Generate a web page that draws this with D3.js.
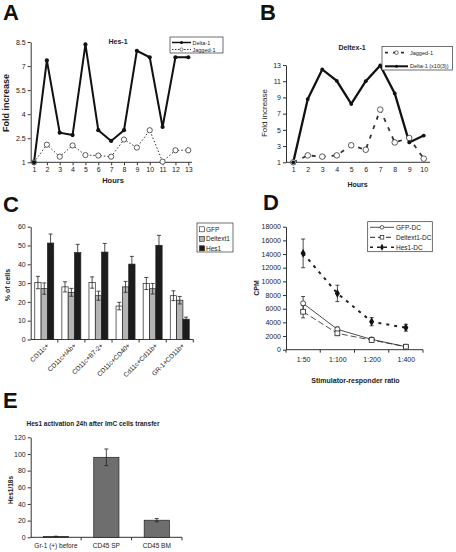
<!DOCTYPE html>
<html><head><meta charset="utf-8">
<script src="https://cdn.jsdelivr.net/npm/d3@7"></script>
<style>
body{margin:0;background:#fff;}
svg{display:block;font-family:"Liberation Sans",Arial,sans-serif;}
</style></head><body>
<svg id="c" width="456" height="552"></svg>
<script>
// ---------- DATA ----------
// Panel A (Hes-1)
const hoursA = [1,2,3,4,5,6,7,8,9,10,11,12,13];
const hesDelta1 = [1,7.35,2.85,2.7,8.35,3.0,2.33,3.0,7.95,7.55,3.2,7.55,7.55];
const hesJagged1 = [1,2.1,1.35,2.05,1.45,1.42,1.35,2.42,1.92,3.0,1.04,1.75,1.75];
const ticksA = [1,2.5,4,5.5,7,8.5];
// Panel B (Deltex-1)
const hoursB = [1,2,3,4,5,6,7,8,9,10];
const dtxJagged1 = [1,1.85,1.7,1.85,3.1,2.55,7.5,3.45,4.0,1.45];
const dtxDelta1 = [1,8.8,12.45,11.05,8.2,11.0,12.95,9.5,3.45,4.3];
const ticksB = [1,3,5,7,9,11,13];
// Panel C
const cellTypes = ["CD11c+","CD11c+IAb+","CD11c+B7-2+","CD11c+CD40+","Cd11c+Cd11b+","GR-1+CD11b+"];
const cSeries = ["GFP","Deltext1","Hes1"];
const cGFP = [30.3,28.0,30.3,17.8,29.8,23.3];
const cGFPerr = [3.3,2.7,3.0,2.0,3.2,2.6];
const cDeltex = [27.1,25.1,23.3,28.0,27.0,20.9];
const cDeltexErr = [3.0,2.1,2.4,2.9,2.8,2.0];
const cHes = [51.3,46.2,46.5,40.1,50.1,10.8];
const cHesErr = [4.8,4.4,4.6,4.1,5.3,1.1];
const ticksC = [0,10,20,30,40,50,60];
// Panel D
const ratios = ["1:50","1:100","1:200","1:400"];
const dGFP = [6780,2980,1510,440];
const dGFPerr = [1000,350,150,80];
const dDeltex = [5560,2390,1410,440];
const dDeltexErr = [900,300,150,80];
const dHes = [14100,8240,4100,3220];
const dHesErr = [2100,1200,600,500];
const ticksD = [0,2000,4000,6000,8000,10000,12000,14000,16000,18000];
// Panel E
const eCats = ["Gr-1 (+) before","CD45 SP","CD45 BM"];
const eVals = [1,96,20.5];
const eErr = [0.3,10,2];
const ticksE = [0,20,40,60,80,100,120];

// ---------- HELPERS ----------
const svg = d3.select("#c");
const FONT = '"Liberation Sans",Arial,sans-serif';
const INK = "#222";
function styleAxis(g, fs){
  g.selectAll("text").attr("font-size", fs||7).attr("font-family", FONT).attr("fill", INK);
  g.selectAll("line").attr("stroke", "#333");
  g.select(".domain").attr("stroke", "#333");
}
function leftAxis(scale, x, vals, fmt, fs){
  const g = svg.append("g").attr("transform",`translate(${x},0)`)
    .call(d3.axisLeft(scale).tickValues(vals).tickSize(3).tickSizeOuter(0).tickPadding(2).tickFormat(fmt||(d=>d)));
  styleAxis(g, fs); return g;
}
function bottomLine(y, x0, x1){
  svg.append("line").attr("x1",x0).attr("x2",x1).attr("y1",y).attr("y2",y).attr("stroke","#333");
}
function letter(t,x,y){
  svg.append("text").attr("x",x).attr("y",y).attr("font-size",22).attr("font-weight","bold")
    .attr("font-family",FONT).attr("fill","#111").text(t);
}
function txt(t,x,y,o){
  o=o||{};
  const e = svg.append("text").attr("x",x).attr("y",y).attr("font-size",o.fs||7)
    .attr("font-family",FONT).attr("fill",INK).attr("text-anchor",o.anchor||"middle")
    .attr("font-weight",o.bold?"bold":"normal").text(t);
  if(o.rot!==undefined) e.attr("transform",`rotate(${o.rot},${x},${y})`);
  return e;
}
function errBars(xs, vals, errs, yS, cap){
  vals.forEach((v,i)=>{
    const x = xs[i];
    const g = svg.append("g").attr("stroke","#222").attr("stroke-width",0.8);
    g.append("line").attr("x1",x).attr("x2",x).attr("y1",yS(v+errs[i])).attr("y2",yS(v-errs[i]));
    g.append("line").attr("x1",x-cap).attr("x2",x+cap).attr("y1",yS(v+errs[i])).attr("y2",yS(v+errs[i]));
    g.append("line").attr("x1",x-cap).attr("x2",x+cap).attr("y1",yS(v-errs[i])).attr("y2",yS(v-errs[i]));
  });
}

// ---------- PANEL A ----------
letter("A",3,20);
const xA = d3.scaleLinear().domain([1,13]).range([34,188.3]);
const yA = d3.scaleLinear().domain([1,8.5]).range([162.3,42]);
leftAxis(yA,30.7,ticksA,d=>d);
bottomLine(162.3,30.7,192);
{
  const g = svg.append("g").attr("transform","translate(0,162.3)")
    .call(d3.axisBottom(xA).tickValues(hoursA).tickSize(3).tickSizeOuter(0).tickPadding(2));
  g.select(".domain").remove(); styleAxis(g);
}
txt("Hes-1",118,44,{bold:true});
txt("Fold increase",8.5,103,{bold:true,fs:9,rot:-90});
txt("Hours",113,182.5,{bold:true,fs:7.5});
const lineA = d3.line().x((d,i)=>xA(hoursA[i])).y(d=>yA(d));
svg.append("path").attr("d",lineA(hesJagged1)).attr("fill","none").attr("stroke","#333")
  .attr("stroke-width",1).attr("stroke-dasharray","1.5,2");
svg.append("path").attr("d",lineA(hesDelta1)).attr("fill","none").attr("stroke","#111").attr("stroke-width",2);
svg.selectAll(".mAj").data(hesJagged1).enter().append("circle").attr("cx",(d,i)=>xA(hoursA[i])).attr("cy",d=>yA(d))
  .attr("r",2.6).attr("fill","#fff").attr("stroke","#333").attr("stroke-width",0.8);
svg.selectAll(".mAd").data(hesDelta1).enter().append("circle").attr("cx",(d,i)=>xA(hoursA[i])).attr("cy",d=>yA(d))
  .attr("r",2.1).attr("fill","#111");
// legend A
svg.append("rect").attr("x",170).attr("y",37).attr("width",53).attr("height",16).attr("fill","#fff").attr("stroke","#333").attr("stroke-width",0.7);
svg.append("line").attr("x1",172).attr("x2",191).attr("y1",42.5).attr("y2",42.5).attr("stroke","#111").attr("stroke-width",1.5);
svg.append("circle").attr("cx",181.5).attr("cy",42.5).attr("r",1.5).attr("fill","#111");
txt("Delta-1",192.5,44.5,{anchor:"start",fs:5.5});
svg.append("line").attr("x1",172).attr("x2",191).attr("y1",49.5).attr("y2",49.5).attr("stroke","#333").attr("stroke-dasharray","1.5,1.5");
svg.append("circle").attr("cx",181.5).attr("cy",49.5).attr("r",1.6).attr("fill","#fff").attr("stroke","#333").attr("stroke-width",0.6);
txt("Jagged-1",192.5,51.5,{anchor:"start",fs:5.5});

// ---------- PANEL B ----------
letter("B",260,20);
const xB = d3.scalePoint().domain(hoursB).range([286,431]).padding(0.5);
const yB = d3.scaleLinear().domain([1,13]).range([162.3,65]);
leftAxis(yB,286,ticksB,d=>d);
bottomLine(162.3,286,430);
{
  const g = svg.append("g").attr("transform","translate(0,162.3)")
    .call(d3.axisBottom(xB).tickSize(0).tickPadding(5));
  g.select(".domain").remove(); styleAxis(g);
}
txt("Deltex-1",352,50,{bold:true,fs:7});
txt("Fold increase",267,113,{fs:8,rot:-90});
txt("Hours",357.5,187,{bold:true,fs:7});
const lineB = d3.line().x((d,i)=>xB(hoursB[i])).y(d=>yB(d));
svg.append("path").attr("d",lineB(dtxJagged1)).attr("fill","none").attr("stroke","#333")
  .attr("stroke-width",1.8).attr("stroke-dasharray","4,6");
svg.append("path").attr("d",lineB(dtxDelta1)).attr("fill","none").attr("stroke","#111").attr("stroke-width",2.3);
svg.selectAll(".mBj").data(dtxJagged1).enter().append("circle").attr("cx",(d,i)=>xB(hoursB[i])).attr("cy",d=>yB(d))
  .attr("r",2.8).attr("fill","#fff").attr("stroke","#333").attr("stroke-width",0.8);
svg.selectAll(".mBd").data(dtxDelta1).enter().append("circle").attr("cx",(d,i)=>xB(hoursB[i])).attr("cy",d=>yB(d))
  .attr("r",1.9).attr("fill","#111");
// legend B
svg.append("rect").attr("x",382).attr("y",46.5).attr("width",70.5).attr("height",23.5).attr("fill","#fff").attr("stroke","#333").attr("stroke-width",0.7);
svg.append("line").attr("x1",385).attr("x2",408).attr("y1",52.7).attr("y2",52.7).attr("stroke","#333").attr("stroke-width",1.8).attr("stroke-dasharray","3,5");
svg.append("circle").attr("cx",396.5).attr("cy",52.7).attr("r",1.8).attr("fill","#fff").attr("stroke","#333").attr("stroke-width",0.7);
txt("Jagged-1",410,54.7,{anchor:"start",fs:5.5});
svg.append("line").attr("x1",385).attr("x2",408).attr("y1",66.3).attr("y2",66.3).attr("stroke","#111").attr("stroke-width",2);
svg.append("circle").attr("cx",396.5).attr("cy",66.3).attr("r",1.5).attr("fill","#111");
txt("Delta-1 (x10(3))",410,68.3,{anchor:"start",fs:5.5});

// ---------- PANEL C ----------
letter("C",3,212);
const x0C = d3.scaleBand().domain(cellTypes).range([30.7,193.3]).paddingInner(0.3).paddingOuter(0.15);
const x1C = d3.scaleBand().domain(cSeries).range([0,x0C.bandwidth()]);
const yC = d3.scaleLinear().domain([0,60]).range([339.5,226.7]);
leftAxis(yC,30.7,ticksC,d=>d);
bottomLine(339.5,30.7,193.3);
cellTypes.forEach((c,i)=>{
  const xb = x0C(c) - x0C.step()*x0C.paddingInner()/2 + x0C.step();
  svg.append("line").attr("x1",xb).attr("x2",xb).attr("y1",339.5).attr("y2",342.5).attr("stroke","#333");
  const cx = x0C(c)+x0C.bandwidth()/2;
  txt(c,cx+5,346,{anchor:"end",fs:6.5,rot:-45});
});
const cData = [[cGFP,cGFPerr,"#fff"],[cDeltex,cDeltexErr,"#b4b4b4"],[cHes,cHesErr,"#1c1c1c"]];
cData.forEach((s,si)=>{
  const key = cSeries[si];
  svg.selectAll(".bc"+si).data(s[0]).enter().append("rect")
    .attr("x",(d,i)=>x0C(cellTypes[i])+x1C(key)).attr("width",x1C.bandwidth())
    .attr("y",d=>yC(d)).attr("height",d=>yC(0)-yC(d))
    .attr("fill",s[2]).attr("stroke","#222").attr("stroke-width",0.7);
  errBars(cellTypes.map(c=>x0C(c)+x1C(key)+x1C.bandwidth()/2), s[0], s[1], yC, 2);
});
txt("% of cells",10,285,{bold:true,fs:7,rot:-90});
// legend C
svg.append("rect").attr("x",197).attr("y",223).attr("width",36).attr("height",29).attr("fill","#fff").attr("stroke","#333").attr("stroke-width",0.7);
cSeries.forEach((s,i)=>{
  const y = 229.3 + i*9.5;
  svg.append("rect").attr("x",199.5).attr("y",y-2.5).attr("width",5).attr("height",5).attr("fill",cData[i][2]).attr("stroke","#222").attr("stroke-width",0.6);
  txt(s,206,y+2.5,{anchor:"start",fs:6.5});
});

// ---------- PANEL D ----------
letter("D",263,210);
const xD = d3.scalePoint().domain(ratios).range([286,423]).padding(0.5);
const yD = d3.scaleLinear().domain([0,18000]).range([349.7,226.7]);
leftAxis(yD,286,ticksD,d=>d);
bottomLine(349.7,286,423);
{
  const g = svg.append("g").attr("transform","translate(0,349.7)")
    .call(d3.axisBottom(xD).tickSize(0).tickPadding(7));
  g.select(".domain").remove(); styleAxis(g);
}
[0,1,2,3,4].forEach(k=>{
  const xb = 286 + k*xD.step();
  svg.append("line").attr("x1",xb).attr("x2",xb).attr("y1",349.7).attr("y2",352.7).attr("stroke","#333");
});
txt("CPM",259,288,{bold:true,fs:7,rot:-90});
txt("Stimulator-responder ratio",355.5,383,{bold:true,fs:7});
const lineD = d3.line().x((d,i)=>xD(ratios[i])).y(d=>yD(d));
const xsD = ratios.map(r=>xD(r));
svg.append("path").attr("d",lineD(dHes)).attr("fill","none").attr("stroke","#222").attr("stroke-width",2).attr("stroke-dasharray","3,5");
svg.append("path").attr("d",lineD(dDeltex)).attr("fill","none").attr("stroke","#222").attr("stroke-width",0.8).attr("stroke-dasharray","6,3");
svg.append("path").attr("d",lineD(dGFP)).attr("fill","none").attr("stroke","#222").attr("stroke-width",0.8);
errBars(xsD,dHes,dHesErr,yD,2);
errBars(xsD,dGFP,dGFPerr,yD,2);
errBars(xsD,dDeltex,dDeltexErr,yD,2);
svg.selectAll(".mDh").data(dHes).enter().append("path")
  .attr("d",d3.symbol(d3.symbolDiamond,22)).attr("transform",(d,i)=>`translate(${xsD[i]},${yD(d)})`).attr("fill","#111");
svg.selectAll(".mDg").data(dGFP).enter().append("circle").attr("cx",(d,i)=>xsD[i]).attr("cy",d=>yD(d))
  .attr("r",2.5).attr("fill","#fff").attr("stroke","#222").attr("stroke-width",0.8);
svg.selectAll(".mDd").data(dDeltex).enter().append("rect").attr("x",(d,i)=>xsD[i]-2.4).attr("y",d=>yD(d)-2.4)
  .attr("width",4.8).attr("height",4.8).attr("fill","#fff").attr("stroke","#222").attr("stroke-width",0.8);
// legend D
svg.append("rect").attr("x",367.7).attr("y",221.7).attr("width",64.6).attr("height",30).attr("fill","#fff").attr("stroke","#333").attr("stroke-width",0.7);
svg.append("line").attr("x1",370).attr("x2",394).attr("y1",227.3).attr("y2",227.3).attr("stroke","#222").attr("stroke-width",0.8);
svg.append("circle").attr("cx",382).attr("cy",227.3).attr("r",1.8).attr("fill","#fff").attr("stroke","#222").attr("stroke-width",0.7);
txt("GFP-DC",396,229.5,{anchor:"start",fs:6.5});
svg.append("line").attr("x1",370).attr("x2",394).attr("y1",237.3).attr("y2",237.3).attr("stroke","#222").attr("stroke-width",1).attr("stroke-dasharray","5,3");
svg.append("rect").attr("x",380.2).attr("y",235.5).attr("width",3.6).attr("height",3.6).attr("fill","#fff").attr("stroke","#222").attr("stroke-width",0.7);
txt("Deltext1-DC",396,239.5,{anchor:"start",fs:6.5});
svg.append("line").attr("x1",370).attr("x2",394).attr("y1",247.3).attr("y2",247.3).attr("stroke","#222").attr("stroke-width",1.6).attr("stroke-dasharray","3,4");
svg.append("path").attr("d",d3.symbol(d3.symbolDiamond,14)).attr("transform","translate(382,247.3)").attr("fill","#111");
txt("Hes1-DC",396,249.5,{anchor:"start",fs:6.5});

// ---------- PANEL E ----------
letter("E",3,408);
txt("Hes1 activation 24h after ImC cells transfer",93,426,{bold:true,fs:6.5});
const xE = d3.scaleBand().domain(eCats).range([30.7,182]).paddingInner(0.5).paddingOuter(0.25);
const yE = d3.scaleLinear().domain([0,120]).range([537.3,437.3]);
leftAxis(yE,30.7,ticksE,d=>d);
bottomLine(537.3,30.7,182);
eCats.forEach((c,i)=>{
  const xb = 30.7 + (i+1)*xE.step();
  svg.append("line").attr("x1",xb).attr("x2",xb).attr("y1",537.3).attr("y2",540.3).attr("stroke","#333");
});
{
  const g = svg.append("g").attr("transform","translate(0,537.3)")
    .call(d3.axisBottom(xE).tickSize(0).tickPadding(6));
  g.select(".domain").remove(); styleAxis(g,6.5);
}
svg.selectAll(".be").data(eVals).enter().append("rect")
  .attr("x",(d,i)=>xE(eCats[i])).attr("width",xE.bandwidth())
  .attr("y",d=>yE(d)).attr("height",d=>yE(0)-yE(d))
  .attr("fill","#6e6e6e").attr("stroke","#222").attr("stroke-width",0.7);
errBars(eCats.map(c=>xE(c)+xE.bandwidth()/2),eVals,eErr,yE,2);
txt("Hes1/18s",13,490,{bold:true,fs:6.5,rot:-90});
</script>
</body></html>
